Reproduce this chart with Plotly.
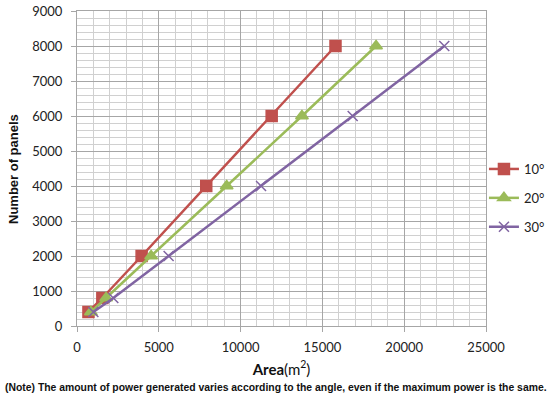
import plotly.graph_objects as go

panels = [400, 800, 2000, 4000, 6000, 8000]
area_10 = [700, 1550, 3950, 7900, 11900, 15800]
area_20 = [850, 1780, 4530, 9150, 13750, 18280]
area_30 = [1000, 2220, 5600, 11250, 16850, 22450]
series_names = ["10°", "20°", "30°"]
colors = ["#C0504D", "#9BBB59", "#8064A2"]
symbols = ["square", "triangle-up", "x-thin"]

fig = go.Figure()
for i, (name, xs) in enumerate(zip(series_names, [area_10, area_20, area_30])):
    fig.add_trace(go.Scatter(
        x=xs, y=panels, name=name, mode="lines+markers",
        line=dict(color=colors[i], width=2.5),
        marker=dict(symbol=symbols[i], size=11 if i < 2 else 10, color=colors[i],
                    line=dict(color=colors[i], width=1.5)),
        legendgroup=name,
    ))

W, H = 550, 397
L, R, T, B = 77, 64, 11, 71
pw = W - L - R
ph = H - T - B

tick_font = dict(family="Lato, Liberation Sans, sans-serif", size=13, color="#222")
fig.update_layout(
    width=W, height=H,
    margin=dict(l=L, r=R, t=T, b=B, autoexpand=False),
    paper_bgcolor="white", plot_bgcolor="white",
    showlegend=True,
    legend=dict(x=0.995, xanchor="left", y=(T + ph - 198) / ph, yanchor="middle",
                font=dict(family="Lato, Liberation Sans, sans-serif", size=13, color="#222"),
                tracegroupgap=9, itemwidth=30, bgcolor="rgba(0,0,0,0)"),
    xaxis=dict(range=[0, 25000], dtick=5000, tickformat="d", tickfont=tick_font,
               automargin=False, ticklabelstandoff=4,
               showgrid=True, gridcolor="#a6a6a6", gridwidth=1,
               minor=dict(dtick=1000, showgrid=True, gridcolor="#d0d0d0", gridwidth=1),
               ticks="outside", ticklen=5, tickcolor="#a6a6a6",
               showline=True, linecolor="#a6a6a6", mirror=True, zeroline=False,
               title=dict(text="<b>Area</b>(m<sup>2</sup>)",
                          font=dict(family="Lato, Liberation Sans, sans-serif", size=15, color="#111"),
                          standoff=10)),
    yaxis=dict(range=[0, 9000], dtick=1000, tickformat="d", tickfont=tick_font,
               automargin=False, ticklabelstandoff=6,
               showgrid=True, gridcolor="#a6a6a6", gridwidth=1,
               minor=dict(dtick=200, showgrid=True, gridcolor="#d0d0d0", gridwidth=1),
               ticks="outside", ticklen=5, tickcolor="#a6a6a6",
               showline=True, linecolor="#a6a6a6", mirror=True, zeroline=False),
)

fig.add_annotation(
    text="<b>Number of panels</b>",
    xref="paper", yref="paper",
    x=(13 - L) / pw, y=(T + ph - 169) / ph,
    xanchor="center", yanchor="middle", textangle=-90, showarrow=False,
    font=dict(family="Liberation Sans, Arial, sans-serif", size=13, color="#111"),
)

fig.add_annotation(
    text="<b>(Note) The amount of power generated varies according to the angle, even if the maximum power is the same.</b>",
    xref="paper", yref="paper",
    x=(3 - L) / pw, y=(T + ph - 387) / ph,
    xanchor="left", yanchor="middle", showarrow=False,
    font=dict(family="Liberation Sans, Arial, sans-serif", size=10.4, color="#111"),
)

fig.write_html("out.html", config={"displayModeBar": False},
               post_script="document.body.style.margin='0px';")
